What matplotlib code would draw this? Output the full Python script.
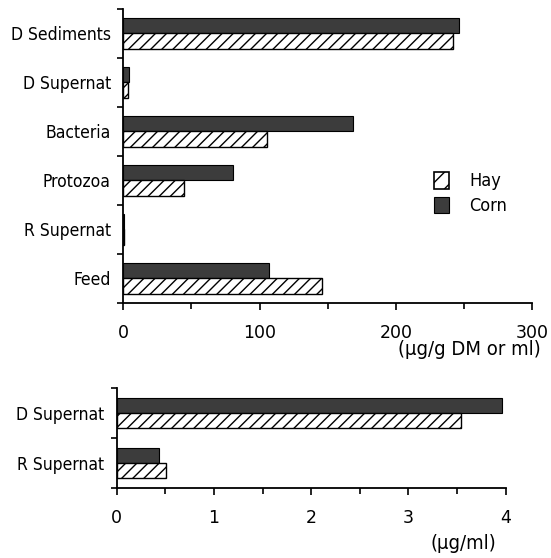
import matplotlib.pyplot as plt
from matplotlib.font_manager import FontProperties
from matplotlib.patches import Patch
import numpy as np

# upper panel: ug/g DM (solids) or ug/ml (supernatants)
categories = ['Feed', 'R Supernat', 'Protozoa', 'Bacteria', 'D Supernat', 'D Sediments']
hay = [145.5, 0.5, 44.3, 105.2, 3.6, 241.6]
corn = [107.1, 0.4, 80.7, 168.3, 3.9, 246.5]

# lower panel: supernatants only, ug/ml
sup_categories = ['R Supernat', 'D Supernat']
sup_hay = [0.51, 3.54]
sup_corn = [0.43, 3.96]

CORN_COLOR = '#3c3c3c'
HAY_HATCH = '///'
label_font = FontProperties(family='DejaVu Sans', stretch='condensed', size=12.5)
legend_font = FontProperties(family='DejaVu Sans', stretch='condensed', size=13)
unit_font = FontProperties(family='DejaVu Sans', stretch='condensed', size=14.5)
tick_font = FontProperties(family='DejaVu Sans', size=12.5)

plt.rcParams['hatch.linewidth'] = 1.0


def draw_panel(ax, cats, hay_vals, corn_vals, xmax, major, minor, bar_h):
    y = np.arange(len(cats))
    ax.barh(y + bar_h / 2, corn_vals, height=bar_h, color=CORN_COLOR,
            edgecolor='black', linewidth=0.8)
    ax.barh(y - bar_h / 2, hay_vals, height=bar_h, color='white',
            edgecolor='black', hatch=HAY_HATCH, linewidth=1.0)

    ax.set_xlim(0, xmax)
    ax.set_ylim(-0.5, len(cats) - 0.5)
    majors = np.arange(0, xmax + major / 2, major)
    ax.set_xticks(majors)
    ax.set_xticks(np.arange(minor, xmax, major), minor=True)
    ax.set_xticklabels([str(int(v)) for v in majors], fontproperties=tick_font)

    # category labels sit between boundary ticks
    ax.set_yticks(np.arange(-0.5, len(cats), 1.0))
    ax.set_yticklabels([])
    ax.set_yticks(y, minor=True)
    ax.set_yticklabels(cats, minor=True, fontproperties=label_font)
    ax.tick_params(axis='y', which='major', length=4, width=1.2, direction='out')
    ax.tick_params(axis='y', which='minor', length=0, pad=9)
    ax.tick_params(axis='x', which='major', length=5, width=1.2, direction='out', pad=10)
    ax.tick_params(axis='x', which='minor', length=4, width=1.2, direction='out')

    for side in ['top', 'right']:
        ax.spines[side].set_visible(False)
    for side in ['left', 'bottom']:
        ax.spines[side].set_linewidth(1.3)


fig = plt.figure(figsize=(5.51, 5.58), dpi=100)

ax1 = fig.add_axes([0.2238, 0.4575, 0.7422, 0.5264])
draw_panel(ax1, categories, hay, corn, 300, 100, 50, 0.317)
handles = [Patch(facecolor='white', edgecolor='black', hatch='//', linewidth=1.2),
           Patch(facecolor=CORN_COLOR, edgecolor='black', linewidth=0.8)]
ax1.legend(handles, ['Hay', 'Corn'], loc='upper left', bbox_to_anchor=(0.742, 0.47),
           frameon=False, prop=legend_font, borderaxespad=0,
           handlelength=0.85, handleheight=1.05, handletextpad=1.1, labelspacing=0.35)
ax1.text(1.02, -0.16, '(\u00b5g/g DM or ml)', transform=ax1.transAxes,
         ha='right', va='center', fontproperties=unit_font)

ax2 = fig.add_axes([0.2118, 0.1249, 0.7060, 0.1798])
draw_panel(ax2, sup_categories, sup_hay, sup_corn, 4, 1, 0.5, 0.3)
ax2.text(0.975, -0.55, '(\u00b5g/ml)', transform=ax2.transAxes,
         ha='right', va='center', fontproperties=unit_font)

fig.savefig('out.png', dpi=100)
